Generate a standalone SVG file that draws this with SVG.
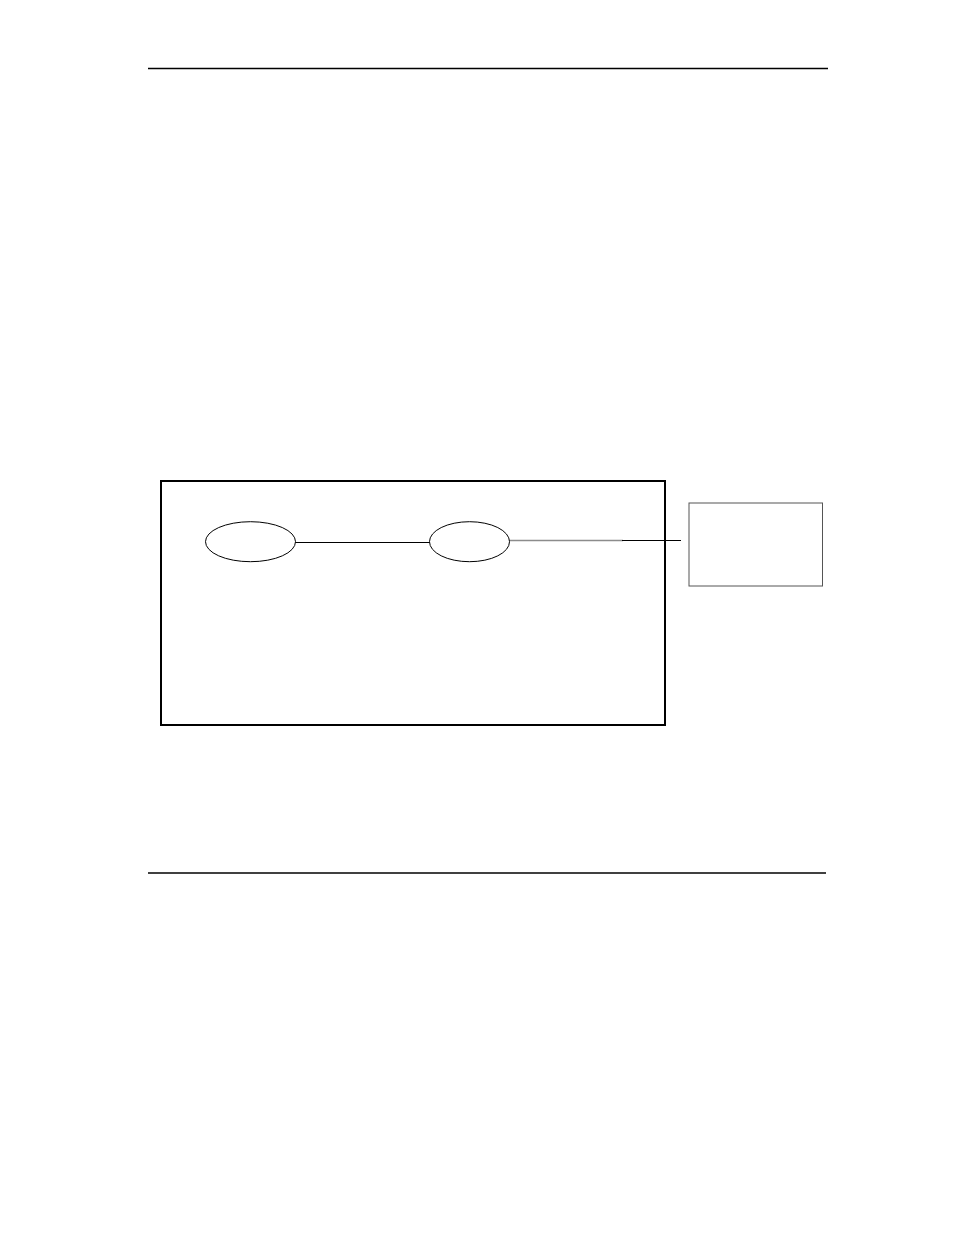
<svg xmlns="http://www.w3.org/2000/svg" width="954" height="1235" viewBox="0 0 954 1235">
<style>
.rule{stroke:#000;stroke-width:1.3}
.node{fill:#fff;stroke:#000;stroke-width:1}
.frame{fill:none;stroke:#000;stroke-width:2}
.ext{fill:#fff;stroke:#555;stroke-width:1}
.link{fill:none;stroke:#000;stroke-width:1.1}
.grey{fill:none;stroke:#8c8c8c;stroke-width:1.5}
</style>
<rect width="954" height="1235" fill="#fff"/>
<line class="rule" x1="148" y1="68.5" x2="828" y2="68.5"/>
<line class="rule" x1="148" y1="873" x2="826" y2="873"/>
<g id="frame"><rect class="frame" x="161" y="481" width="504" height="244"/></g>
<g id="connectors">
<line class="link" x1="295" y1="542.5" x2="430" y2="542.5"/>
<line class="grey" x1="509" y1="540.5" x2="623" y2="540.5"/>
<line class="link" x1="622" y1="540.5" x2="681" y2="540.5"/>
</g>
<g id="node1"><ellipse class="node" cx="250.5" cy="541.7" rx="45" ry="20"/></g>
<g id="node2"><ellipse class="node" cx="469.5" cy="541.7" rx="40" ry="20"/></g>
<g id="external"><rect class="ext" x="689" y="503" width="133.5" height="83"/></g>
</svg>
